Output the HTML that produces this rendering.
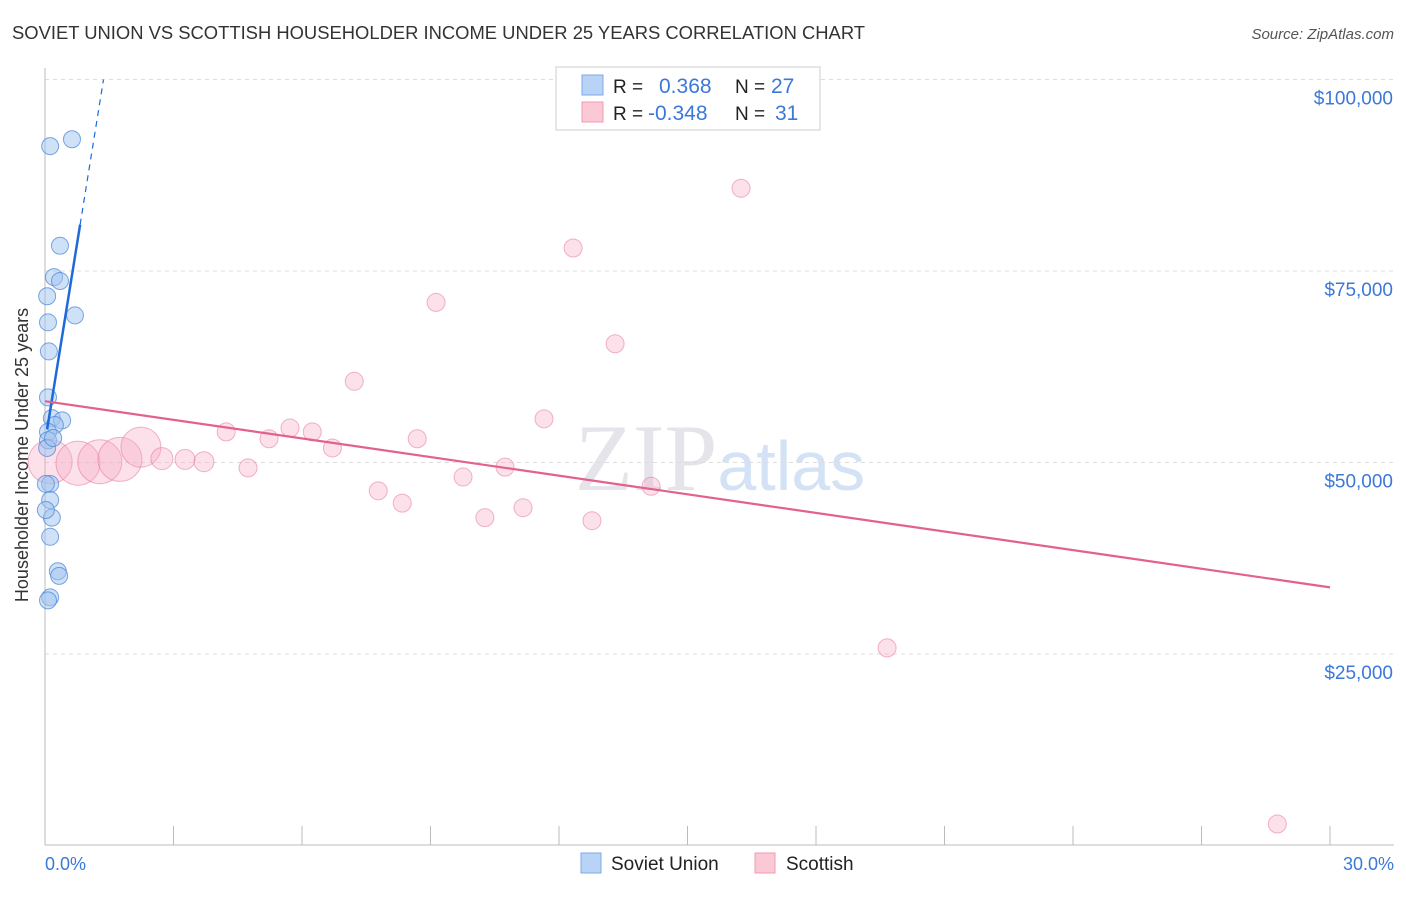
<!DOCTYPE html>
<html><head><meta charset="utf-8"><style>
body{margin:0;background:#fff;font-family:"Liberation Sans",sans-serif}
svg text{font-family:"Liberation Sans",sans-serif}
</style></head><body>
<svg id="c" width="1406" height="892" xmlns="http://www.w3.org/2000/svg">
<text x="12" y="39" font-size="18" fill="#333" textLength="853" lengthAdjust="spacingAndGlyphs">SOVIET UNION VS SCOTTISH HOUSEHOLDER INCOME UNDER 25 YEARS CORRELATION CHART</text>
<text x="1394" y="39" font-size="15" fill="#555" font-style="italic" text-anchor="end">Source: ZipAtlas.com</text>
<text x="720" y="490" font-size="95" fill="#e4e4ea" text-anchor="middle" font-family="Liberation Serif"><tspan font-family="Liberation Serif">ZIP</tspan><tspan fill="#d3e2f4" font-size="70" font-family="Liberation Sans">atlas</tspan></text>
<g id="grid"></g>
<line x1="45" y1="68" x2="45" y2="845" stroke="#bbb"/>
<line x1="45" y1="845" x2="1394" y2="845" stroke="#bbb"/>
<text x="28" y="455" font-size="18" fill="#333" text-anchor="middle" transform="rotate(-90 28 455)">Householder Income Under 25 years</text>
<text x="45" y="870" font-size="18" fill="#3b78d8">0.0%</text>
<text x="1394" y="870" font-size="18" fill="#3b78d8" text-anchor="end">30.0%</text>
<g id="pts"></g>
<g>
<rect x="556" y="67" width="264" height="63" fill="#fff" stroke="#ccc"/>
<rect x="582" y="75" width="21" height="20" fill="#b9d3f6" stroke="#7eaae8"/>
<rect x="582" y="102" width="21" height="20" fill="#fbc8d6" stroke="#f09ab3"/>
<text x="613" y="93" font-size="19" fill="#222">R =</text>
<text x="659" y="93" font-size="21" fill="#3b78d8">0.368</text>
<text x="735" y="93" font-size="19" fill="#222">N =</text>
<text x="771" y="93" font-size="21" fill="#3b78d8">27</text>
<text x="613" y="120" font-size="19" fill="#222">R =</text>
<text x="648" y="120" font-size="21" fill="#3b78d8">-0.348</text>
<text x="735" y="120" font-size="19" fill="#222">N =</text>
<text x="775" y="120" font-size="21" fill="#3b78d8">31</text>
</g>
<g>
<rect x="581" y="853" width="20" height="20" fill="#b9d3f6" stroke="#7eaae8"/>
<text x="611" y="870" font-size="19" fill="#222">Soviet Union</text>
<rect x="755" y="853" width="20" height="20" fill="#fbc8d6" stroke="#f09ab3"/>
<text x="786" y="870" font-size="19" fill="#222">Scottish</text>
</g>
</svg>
<script>
const yTicks=[25000,50000,75000,100000];
const yTickLabels=["$25,000","$50,000","$75,000","$100,000"];
const blueX=[0.12,0.63,0.35,0.21,0.35,0.05,0.70,0.07,0.09,0.07,0.16,0.40,0.23,0.07,0.07,0.05,0.12,0.02,0.12,0.16,0.12,0.30,0.33,0.12,0.07,0.02,0.19];
const blueY=[91300,92200,78300,74200,73700,71700,69200,68300,64500,58500,55800,55500,54900,54000,52900,51900,47200,47200,45100,42800,40300,35800,35200,32400,32000,43800,53200];
const pinkX=[0.12,0.77,1.28,1.75,2.24,2.73,3.27,3.71,4.23,4.74,5.23,5.72,6.24,6.71,7.22,7.78,8.34,8.69,9.13,9.76,10.27,10.74,11.16,11.65,12.33,12.77,13.31,14.15,16.25,19.66,28.77];
const pinkY=[50100,49900,50100,50400,52000,50500,50400,50100,54000,49300,53100,54500,54000,51900,60600,46300,44700,53100,70900,48100,42800,49400,44100,55700,78000,42400,65500,46900,85800,25800,2800];
const pinkR=[22,22,22,22,20,11,10,10,9,9,9,9,9,9,9,9,9,9,9,9,9,9,9,9,9,9,9,9,9,9,9];
const blueTrend=[52600,34700];
const pinkTrend=[58000,-810];
const NS="http://www.w3.org/2000/svg";
const X=v=>45+v*1285/30, Y=v=>845.5-v*191.5/25000;
const grid=document.getElementById('grid'), pts=document.getElementById('pts');
function mk(tag,at,p){const e=document.createElementNS(NS,tag);for(const k in at)e.setAttribute(k,at[k]);p.appendChild(e);return e;}
yTicks.forEach((t,i)=>{
 const l=mk('line',{x1:45,x2:1394,y1:Y(t),y2:Y(t),stroke:'#ddd','stroke-dasharray':'4 4'},grid);
 
 
 const tx=mk('text',{x:1393,y:Y(t)+25,'font-size':19,fill:'#3b78d8','text-anchor':'end'},grid);
 tx.textContent=yTickLabels[i];
 
 
});
for(let i=0;i<=10;i++){
 const l=mk('line',{x1:X(i*3),x2:X(i*3),y1:826,y2:845,stroke:'#bbb'},grid);
 
 
}
pinkX.forEach((v,i)=>{
 const c=mk('circle',{cx:X(v),cy:Y(pinkY[i]),r:pinkR[i],fill:'rgba(246,170,195,0.35)',stroke:'rgba(230,120,155,0.55)'},pts);
 
 
});
blueX.forEach((v,i)=>{
 const c=mk('circle',{cx:X(v),cy:Y(blueY[i]),r:8.5,fill:'rgba(160,195,240,0.5)',stroke:'rgba(70,130,215,0.7)'},pts);
 
 
});
const bx=v=>blueTrend[0]+blueTrend[1]*v;
let l1=mk('line',{x1:X(0.05),y1:Y(bx(0.05)),x2:X(0.82),y2:Y(bx(0.82)),stroke:'#1f6ad8','stroke-width':2.5},pts);


const xEnd=(100000-blueTrend[0])/blueTrend[1];
let l2=mk('line',{x1:X(0.82),y1:Y(bx(0.82)),x2:X(xEnd),y2:Y(100000),stroke:'#1f6ad8','stroke-width':1.2,'stroke-dasharray':'6 5'},pts);


const px=v=>pinkTrend[0]+pinkTrend[1]*v;
let l3=mk('line',{x1:X(0),y1:Y(px(0)),x2:X(30),y2:Y(px(30)),stroke:'#e2618d','stroke-width':2.2},pts);


</script>
</body></html>
